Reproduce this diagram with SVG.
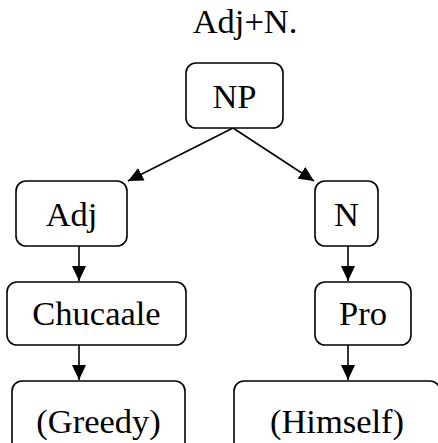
<svg xmlns="http://www.w3.org/2000/svg" width="438" height="443" viewBox="0 0 438 443">
  <style>
    .box { fill: #ffffff; stroke: #000000; stroke-width: 1.6; }
    .lbl { font-family: "Liberation Serif", Tinos, "Times New Roman", Times, serif; font-size: 34.5px; fill: #000000; text-anchor: middle; }
    .edge { stroke: #000000; stroke-width: 1.6; fill: none; marker-end: url(#head); }
  </style>
  <defs>
    <marker id="head" markerUnits="userSpaceOnUse" markerWidth="16" markerHeight="14" refX="15" refY="7" orient="auto">
      <path d="M0,0 L15,7 L0,14 Z" fill="#000000"/>
    </marker>
  </defs>

  <rect width="438" height="443" fill="#ffffff"/>

  <text class="lbl" x="245" y="33">Adj+N.</text>

  <g id="connectors">
    <line class="edge" x1="233" y1="128" x2="128" y2="181"/>
    <line class="edge" x1="233" y1="128" x2="314" y2="181"/>
    <line class="edge" x1="79" y1="246" x2="79" y2="281"/>
    <line class="edge" x1="348" y1="246" x2="348" y2="281"/>
    <line class="edge" x1="79" y1="345" x2="79" y2="380"/>
    <line class="edge" x1="348" y1="345" x2="348" y2="380"/>
  </g>

  <g id="np">
    <rect class="box" x="186" y="63" width="97" height="65" rx="10"/>
    <text class="lbl" x="234.5" y="108">NP</text>
  </g>

  <g id="adj">
    <rect class="box" x="16" y="181" width="111" height="65" rx="10"/>
    <text class="lbl" x="71.5" y="226">Adj</text>
  </g>

  <g id="n">
    <rect class="box" x="315" y="181" width="63" height="65" rx="10"/>
    <text class="lbl" x="346.5" y="226">N</text>
  </g>

  <g id="chucaale">
    <rect class="box" x="7" y="282" width="179" height="63" rx="10"/>
    <text class="lbl" x="96.5" y="325">Chucaale</text>
  </g>

  <g id="pro">
    <rect class="box" x="315" y="282" width="96" height="63" rx="10"/>
    <text class="lbl" x="363" y="325">Pro</text>
  </g>

  <g id="greedy">
    <rect class="box" x="12" y="381" width="173" height="80" rx="10"/>
    <text class="lbl" x="98.5" y="433">(Greedy)</text>
  </g>

  <g id="himself">
    <rect class="box" x="234" y="381" width="206" height="80" rx="10"/>
    <text class="lbl" x="337" y="433">(Himself)</text>
  </g>
</svg>
